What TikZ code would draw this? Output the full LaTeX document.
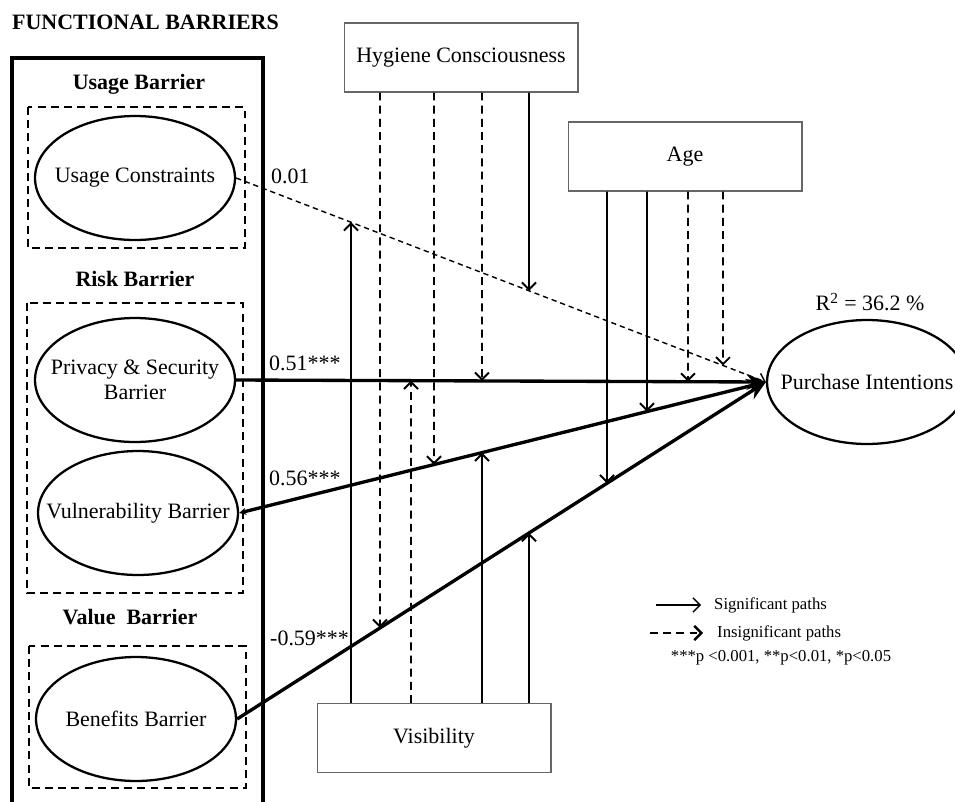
\documentclass[tikz,border=0pt]{standalone}
\usepackage{fontspec}
\setmainfont{Liberation Serif}
\usepackage{tikz}
\usepackage{tkz-euclide}
\usetikzlibrary{arrows.meta,shapes.geometric,calc}

\tikzset{
  latent/.style={ellipse,draw,line width=1.3pt,minimum width=4cm,minimum height=2.48cm,inner xsep=-8mm,align=center,font=\fontsize{12.5}{14.5}\selectfont},
  modbox/.style={rectangle,draw=black!60,line width=0.6pt,minimum width=4.68cm,minimum height=1.38cm,font=\fontsize{12.5}{14.5}\selectfont},
  barrierbox/.style={draw,dash pattern=on 4.5pt off 3pt,line width=1.4pt},
  grouptitle/.style={font=\fontsize{12.5}{14.5}\selectfont\bfseries},
  coef/.style={font=\fontsize{12.5}{14.5}\selectfont},
  legendtext/.style={font=\fontsize{9.5}{11}\selectfont},
  mainline/.style={line width=1.9pt},
  sig/.style={line width=1.1pt,-{Straight Barb[length=4pt,width=8pt]}},
  insig/.style={sig,dash pattern=on 4.5pt off 3pt},
}

\begin{document}
\begin{tikzpicture}[x=0.02cm,y=-0.02cm]
    \useasboundingbox (0,0) rectangle (955,801);

    \node[grouptitle,anchor=west] (title) at (6,22) {FUNCTIONAL BARRIERS};
    \draw[line width=1.8pt] (12,806) -- (12,58) -- (263,58) -- (263,806);

    \node[grouptitle] (usage) at (139,84) {Usage Barrier};
    \node[grouptitle] (risk) at (135,279) {Risk Barrier};
    \node[grouptitle] (value) at (130,617) {Value\ \ Barrier};
    \draw[barrierbox] (28,107) rectangle (245,248);
    \draw[barrierbox] (27,303) rectangle (243,593);
    \draw[barrierbox] (29,646) rectangle (246,788);

    \node[latent] (uc) at (135,178) {Usage Constraints};
    \node[latent] (ps) at (135,380) {Privacy \& Security\\Barrier};
    \node[latent] (vb) at (138,513) {Vulnerability Barrier};
    \node[latent] (bb) at (136,719) {Benefits Barrier};
    \node[latent] (pi) at (867,382) {Purchase Intentions};
    \node[coef] (r2) at (870,302) {R\textsuperscript{2} = 36.2 \%};

    \node[modbox] (hyg) at (461,57.5) {Hygiene Consciousness};
    \node[modbox] (age) at (685,156.5) {Age};
    \node[modbox] (vis) at (434,738) {Visibility};

    \draw[line width=0.8pt,dash pattern=on 3pt off 2.2pt,-{Straight Barb[length=4pt,width=7pt]}] (uc.east) -- (pi.west);
    \draw[mainline,-{Stealth[length=11pt,width=9pt]}] (ps.east) -- (pi.west);
    \draw[mainline,{Stealth[length=4pt,width=4pt]}-{Stealth[length=11pt,width=9pt]}] (vb.east) -- (pi.west);
    \draw[mainline,-{Stealth[length=11pt,width=9pt]}] (bb.east) -- (pi.west);

    \node[coef,anchor=west] (c1) at (265,176) {0.01};
    \node[coef,anchor=west] (c2) at (263,363) {0.51***};
    \node[coef,anchor=west] (c3) at (263,478) {0.56***};
    \node[coef,anchor=west] (c4) at (264,638) {-0.59***};

    \foreach \n/\x/\src/\side/\tgt/\sty in {h1/380/hyg/south/bb/insig,h2/434/hyg/south/vb/insig,h3/482/hyg/south/ps/insig,h4/529/hyg/south/uc/sig,
        a1/607/age/south/bb/sig,a2/647/age/south/vb/sig,a3/688/age/south/ps/insig,a4/723/age/south/uc/insig,
        v1/351/vis/north/uc/sig,v2/411/vis/north/ps/insig,v3/482/vis/north/vb/sig,v4/529/vis/north/bb/sig}
    {
        \coordinate (\n) at (\x,0 |- \src.\side);
        \coordinate (aux\n) at (\x,400);
        \coordinate (end\n) at (intersection of \tgt.east--pi.west and \n--aux\n);
        \draw[\sty] (\n) -- (end\n);
    }

    \coordinate (sigA) at (656,605);
    \coordinate (sigB) at (701,605);
    \draw[line width=0.8pt,-{Straight Barb[length=4pt,width=8pt]}] (sigA) -- (sigB);
    \node[legendtext,anchor=west] (sigtxt) at (708,605) {Significant paths};
    \coordinate (insA) at (650,633);
    \coordinate (insB) at (703,633);
    \draw[line width=1.4pt,dash pattern=on 4.5pt off 3pt,-{Straight Barb[length=4pt,width=8pt]}] (insA) -- (insB);
    \node[legendtext,anchor=west] (instxt) at (711,633) {Insignificant paths};
    \node[legendtext] (pnote) at (781,658) {***p <0.001, **p<0.01, *p<0.05};

\end{tikzpicture}
\end{document}
